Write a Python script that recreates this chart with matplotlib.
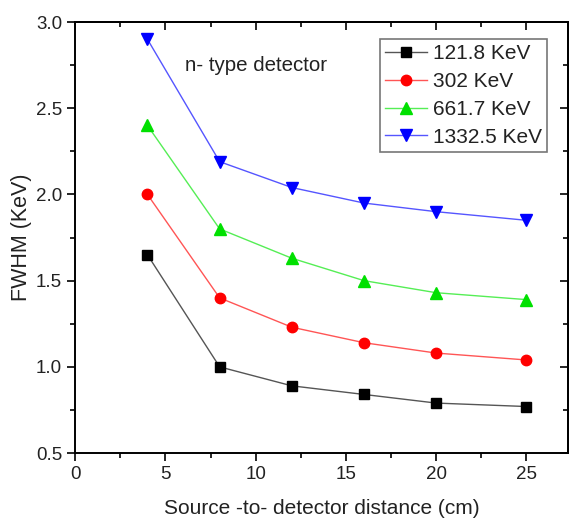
import matplotlib
matplotlib.use("Agg")
import matplotlib.pyplot as plt
from matplotlib.ticker import MultipleLocator

plt.rcParams['font.family'] = ['Liberation Sans', 'DejaVu Sans']

distance = [4, 8, 12, 16, 20, 25]
e121 = [1.65, 1.00, 0.89, 0.84, 0.79, 0.77]
e302 = [2.00, 1.40, 1.23, 1.14, 1.08, 1.04]
e661 = [2.40, 1.80, 1.63, 1.50, 1.43, 1.39]
e1332 = [2.90, 2.19, 2.04, 1.95, 1.90, 1.85]
labels = ["121.8 KeV", "302 KeV", "661.7 KeV", "1332.5 KeV"]

fig = plt.figure(figsize=(5.70, 5.19), dpi=100)
ax = fig.add_axes([0.132, 0.127, 0.8645, 0.8306])

series = [
    (e121, 'black', 's', '#555555', 7),
    (e302, 'red', 'o', '#ff5555', 7.5),
    (e661, '#00e000', '^', '#55ee55', 8),
    (e1332, 'blue', 'v', '#5555ff', 8),
]
for (vals, mc, m, lc, ms), lab in zip(series, labels):
    ax.plot(distance, vals, color=lc, lw=1.0, marker=m, markersize=ms,
            markerfacecolor=mc, markeredgecolor=mc, label=lab)

ax.set_xlim(0, 27.3)
ax.set_ylim(0.5, 3.0)
ax.xaxis.set_major_locator(MultipleLocator(5))
ax.xaxis.set_minor_locator(MultipleLocator(2.5))
ax.yaxis.set_major_locator(MultipleLocator(0.5))
ax.yaxis.set_minor_locator(MultipleLocator(0.25))
ax.yaxis.set_major_formatter(matplotlib.ticker.FormatStrFormatter('%.1f'))

for s in ax.spines.values():
    s.set_linewidth(1.4)
ax.tick_params(which='both', direction='out', width=1.2, labelsize=13.5,
               labelcolor='#222222')
ax.tick_params(which='major', length=6)
ax.tick_params(which='minor', length=3.5)

# mirrored ticks inward on top/right
axt = ax.secondary_xaxis('top')
axt.xaxis.set_major_locator(MultipleLocator(5))
axt.xaxis.set_minor_locator(MultipleLocator(2.5))
axt.tick_params(which='both', direction='in', labeltop=False, width=1.2)
axt.tick_params(which='major', length=6)
axt.tick_params(which='minor', length=3.5)
axr = ax.secondary_yaxis('right')
axr.yaxis.set_major_locator(MultipleLocator(0.5))
axr.yaxis.set_minor_locator(MultipleLocator(0.25))
axr.tick_params(which='both', direction='in', labelright=False, width=1.2)
axr.tick_params(which='major', length=6)
axr.tick_params(which='minor', length=3.5)
for sa in (axt, axr):
    for s in sa.spines.values():
        s.set_linewidth(1.4)

ax.set_xlabel("Source -to- detector distance (cm)", fontsize=15, labelpad=11,
              color='#222222')
ax.set_ylabel("FWHM (KeV)", fontsize=15.5, labelpad=3, color='#222222')

ax.text(0.223, 0.9, "n- type detector", transform=ax.transAxes, fontsize=14.8,
        va='center', ha='left', color='#222222')

leg = ax.legend(loc='upper right', bbox_to_anchor=(0.958, 0.96), fontsize=15,
                frameon=True, fancybox=False, edgecolor='#555555',
                handlelength=2.0, handletextpad=0.3, borderpad=0.25,
                labelspacing=0.42, borderaxespad=0.0)
leg.get_frame().set_linewidth(1.2)
for t in leg.get_texts():
    t.set_color('#222222')

fig.savefig("out.png", dpi=100)
